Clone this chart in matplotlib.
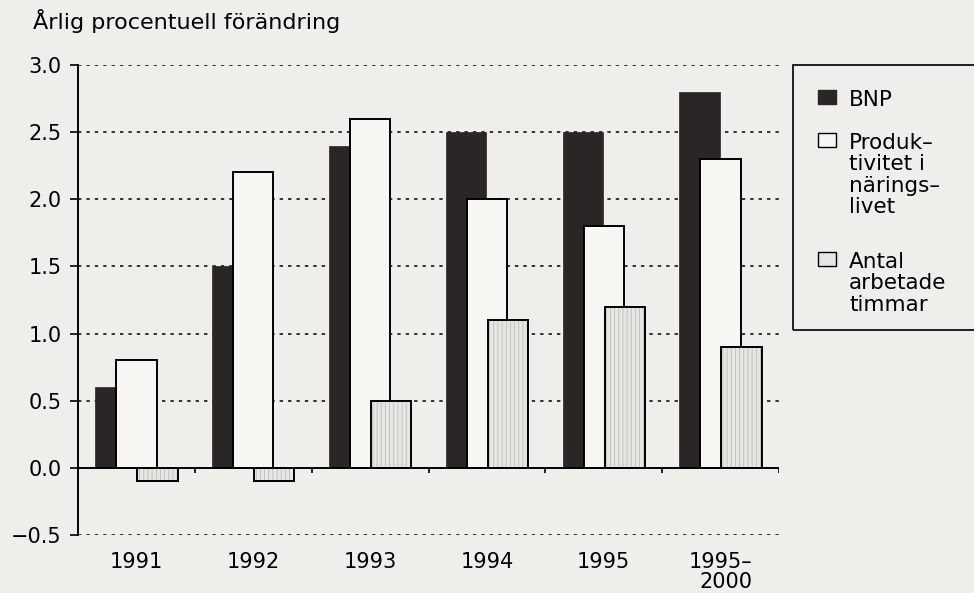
import numpy as np
import matplotlib.pyplot as plt
from matplotlib.patches import Rectangle
import matplotlib.transforms as mtransforms

plt.rcParams['font.family'] = ['DejaVu Sans']
plt.rcParams['hatch.linewidth'] = 0.6

# Data
ar = ['1991', '1992', '1993', '1994', '1995', '1995\u2013\n2000']
bnp = [0.6, 1.5, 2.4, 2.5, 2.5, 2.8]
produktivitet = [0.8, 2.2, 2.6, 2.0, 1.8, 2.3]
timmar = [-0.1, -0.1, 0.5, 1.1, 1.2, 0.9]
yticks = [-0.5, 0.0, 0.5, 1.0, 1.5, 2.0, 2.5, 3.0]
ytick_labels = ['\u22120.5', '0.0', '0.5', '1.0', '1.5', '2.0', '2.5', '3.0']
serier = ['BNP', 'Produk\u2013\ntivitet i\nn\u00e4rings\u2013\nlivet', 'Antal\narbetade\ntimmar']

bg = '#eeeeea'
svart = '#2a2527'
vit = '#f6f6f3'
grå = '#e6e6e2'

fig = plt.figure(figsize=(9.74, 5.93), dpi=100, facecolor=bg)
ax = fig.add_axes([78 / 974, 58 / 593, 701 / 974, 470 / 593])
ax.set_facecolor(bg)

x = np.arange(len(ar)) + 0.5
w = 0.345
d = 0.18

# dotted gridlines
for y in yticks:
    if y != 0:
        ax.axhline(y, color='black', lw=1.1, ls=(0, (2.2, 3.3)), zorder=1)

ax.bar(x - d, bnp, w, color=svart, edgecolor=svart, lw=0.5, zorder=2)
ax.bar(x, produktivitet, w, color=vit, edgecolor='black', lw=1.4, zorder=3)
ax.bar(x + d, timmar, w, color=grå, edgecolor='#bdbdb8', hatch='||||', lw=0, zorder=4)
ax.bar(x + d, timmar, w, fill=False, edgecolor='black', lw=1.4, zorder=5)

ax.axhline(0, color='black', lw=1.4, zorder=6)

ax.set_xlim(0, len(ar))
ax.set_ylim(-0.5, 3.0)
ax.set_yticks(yticks)
ax.set_yticklabels(ytick_labels, fontsize=15)
ax.tick_params(axis='y', direction='out', length=6, width=1.2, pad=6)

# x-axis: ticks at group borders on the zero line, labels below
ax.set_xticks([])
ax.vlines(np.arange(1, len(ar) + 1), -0.035, 0, color='black', lw=1.2, zorder=6)
trans = mtransforms.blended_transform_factory(ax.transData, ax.transAxes)
for xi, lab in zip(x, ar):
    ax.text(xi, -0.036, lab, transform=trans, ha='center', va='top',
            multialignment='right', fontsize=15, linespacing=1.0)

for s in ['top', 'right', 'bottom']:
    ax.spines[s].set_visible(False)
ax.spines['left'].set_linewidth(1.4)

fig.text(33 / 974, 1 - 29 / 593, '\u00c5rlig procentuell f\u00f6r\u00e4ndring',
         fontsize=16, ha='left', va='baseline')

# legend
fig.patches.append(Rectangle((793 / 974, 1 - 330 / 593), 200 / 974, 265 / 593,
                             transform=fig.transFigure, facecolor='none',
                             edgecolor='black', lw=1.2))
leg_top = [90, 133, 252]
leg_stil = [dict(facecolor=svart, edgecolor=svart),
            dict(facecolor=vit, edgecolor='black'),
            dict(facecolor=grå, edgecolor='black')]
for lab, yt, st in zip(serier, leg_top, leg_stil):
    fig.patches.append(Rectangle((818 / 974, 1 - (yt + 14) / 593), 18 / 974, 14 / 593,
                                 transform=fig.transFigure, lw=1.0, **st))
    fig.text(849 / 974, 1 - yt / 593, lab, fontsize=15.5, ha='left',
             va='top', linespacing=1.08)

fig.savefig('out.png', dpi=100, facecolor=bg)
